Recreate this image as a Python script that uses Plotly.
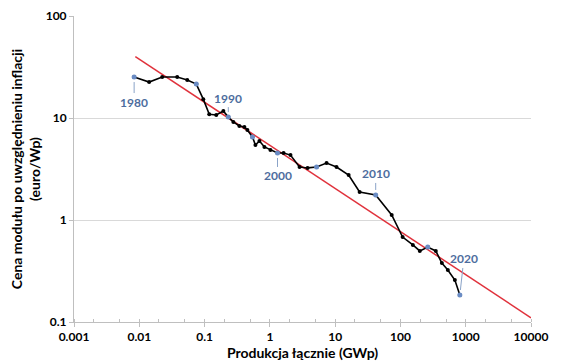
import numpy as np
import plotly.graph_objects as go

years = list(range(1980, 2021))
cum_gwp = [0.00834, 0.01415, 0.02244, 0.0381, 0.0543, 0.0747, 0.0955, 0.118, 0.151, 0.194,
           0.231, 0.276, 0.341, 0.407, 0.453, 0.541, 0.601, 0.692, 0.826, 1.02,
           1.31, 1.62, 2.07, 2.85, 3.78, 5.19, 7.39, 10.5, 16.1, 23.7,
           41.8, 73.5, 108, 155, 198, 262, 348, 431, 532, 682, 813]
price = [25.2, 22.5, 25.2, 25.2, 23.6, 21.5, 15.3, 10.9, 10.7, 11.7,
         10.2, 9.14, 8.36, 8.17, 7.62, 6.52, 5.43, 5.96, 5.20, 4.85,
         4.54, 4.54, 4.33, 3.31, 3.24, 3.31, 3.62, 3.31, 2.76, 1.88,
         1.76, 1.12, 0.681, 0.569, 0.497, 0.543, 0.497, 0.378, 0.324, 0.258, 0.184]

trend_x = [0.0087, 10000]
trend_y = [40, 0.11]

x_ticks = [0.001, 0.01, 0.1, 1, 10, 100, 1000, 10000]
x_ticktext = ["0.001", "0.01", "0.1", "1", "10", "100", "1000", "10000"]
y_ticks = [0.1, 1, 10, 100]
y_ticktext = ["0.1", "1", "10", "100"]

label_years = [1980, 1990, 2000, 2010, 2020]
label_offsets = [(0, 25), (0, -19), (0, 23), (0, -21), (4, -36)]

BLUE = "#4e6d9e"
FONT = "Lato"

fig = go.Figure()
fig.add_trace(go.Scatter(x=trend_x, y=trend_y, mode="lines",
                         line=dict(color="#e0323c", width=1.5), hoverinfo="skip"))
fig.add_trace(go.Scatter(x=cum_gwp, y=price, mode="lines+markers",
                         line=dict(color="black", width=1.6),
                         marker=dict(color="black", size=4)))
bx = [c for c, yr in zip(cum_gwp, years) if yr % 5 == 0]
by = [p for p, yr in zip(price, years) if yr % 5 == 0]
fig.add_trace(go.Scatter(x=bx, y=by, mode="markers",
                         marker=dict(color="#6a8cc4", size=5)))

for yr, (dx, dy) in zip(label_years, label_offsets):
    i = years.index(yr)
    fig.add_annotation(x=np.log10(cum_gwp[i]), y=np.log10(price[i]), text=f"<b>{yr}</b>",
                       showarrow=True, arrowhead=0, arrowwidth=1, arrowcolor="#8aa3c8",
                       ax=dx, ay=dy, standoff=5,
                       font=dict(family=FONT, size=12, color=BLUE))

# page body has an 8px default margin, so the figure is 8px smaller and shifted
fig.update_layout(
    width=562, height=355,
    margin=dict(l=66, r=39, t=8, b=41),
    paper_bgcolor="white", plot_bgcolor="white",
    showlegend=False,
    font=dict(family=FONT, size=12, color="black"),
)
fig.update_xaxes(type="log", range=[-3, 4], tickvals=x_ticks, ticktext=[f"<b>{t}</b>" for t in x_ticktext],
                 showgrid=False, showline=True, linecolor="#bfbfbf", linewidth=1,
                 ticks="outside", ticklen=4, tickcolor="#bfbfbf",
                 minor=dict(ticks="inside", ticklen=3, tickcolor="#bfbfbf", showgrid=False),
                 tickfont=dict(family=FONT, size=12, color="black"),
                 title=dict(text="<b>Produkcja łącznie (GWp)</b>", font=dict(family=FONT, size=14), standoff=2),
                 automargin=False, zeroline=False)
fig.update_yaxes(type="log", range=[-1, 2], tickvals=y_ticks, ticktext=[f"<b>{t}</b>" for t in y_ticktext],
                 showgrid=True, gridcolor="#d9d9d9", gridwidth=1,
                 showline=True, linecolor="#bfbfbf", linewidth=1,
                 ticks="outside", ticklen=4, tickcolor="#bfbfbf",
                 tickfont=dict(family=FONT, size=12, color="black"),
                 title=dict(text="<b>Cena modułu po uwzględnieniu inflacji<br>(euro/Wp)</b>",
                            font=dict(family=FONT, size=14), standoff=6),
                 automargin=False, zeroline=False)

fig.write_html("out.html")
